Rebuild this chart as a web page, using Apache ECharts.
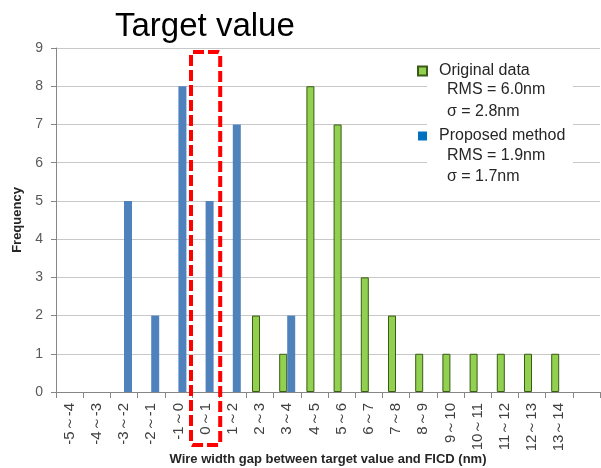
<!DOCTYPE html>
<html>
<head>
<meta charset="utf-8">
<script src="https://cdn.jsdelivr.net/npm/echarts@6/dist/echarts.min.js"></script>
<style>
  html, body { margin: 0; padding: 0; background: #ffffff; }
  #chart { width: 601px; height: 468px; }
</style>
</head>
<body>
<div id="chart"></div>
<script>
// Histogram bins of the wire width gap (nm)
const categories = ['-5～-4', '-4～-3', '-3～-2', '-2～-1', '-1～0', '0～1', '1～2', '2～3', '3～4', '4～5',
  '5～6', '6～7', '7～8', '8～9', '9～10', '10～11', '11～12', '12～13', '13～14', ''];
// Frequency counts per bin
const originalData = [0, 0, 0, 0, 0, 0, 0, 2, 1, 8, 7, 3, 2, 1, 1, 1, 1, 1, 1, 0];
const proposedData = [0, 0, 5, 2, 8, 5, 7, 0, 2, 0, 0, 0, 0, 0, 0, 0, 0, 0, 0, 0];
const yTicks = { min: 0, max: 9, interval: 1 };
const seriesNames = ['Original data', 'Proposed method'];
const statsOriginal = ['RMS = 6.0nm', 'σ = 2.8nm'];
const statsProposed = ['RMS = 1.9nm', 'σ = 1.7nm'];
const xAxisTitle = 'Wire width gap between target value and FICD (nm)';
const targetBin = '0～1';

const chart = echarts.init(document.getElementById('chart'));
const font = "'Liberation Sans', Arial, sans-serif";

// empty bins draw no bar at all
const hideZero = arr => arr.map(v => (v === 0 ? '-' : v));

const option = {
  animation: false,
  backgroundColor: '#ffffff',
  textStyle: { fontFamily: font },
  title: {
    text: 'Target value',
    left: 115, top: 10, padding: 0,
    textStyle: { fontSize: 33, fontWeight: 'normal', color: '#000000', fontFamily: font }
  },
  grid: { left: 56, right: 1, top: 48, bottom: 76, containLabel: false, outerBoundsMode: 'none' },
  legend: {
    orient: 'vertical',
    left: 417, top: 63, padding: 0,
    itemWidth: 9, itemHeight: 9, itemGap: 49,
    z: 5,
    data: [
      { name: seriesNames[0], icon: 'rect' },
      { name: seriesNames[1], icon: 'rect', itemStyle: { color: '#0070c0' } }
    ],
    textStyle: { fontSize: 16, color: '#262626', padding: [0, 0, 0, 7], fontFamily: font }
  },
  xAxis: {
    type: 'category',
    data: categories,
    axisLine: { lineStyle: { color: '#868686', width: 1 } },
    axisTick: { show: true, interval: 0, length: 6, lineStyle: { color: '#868686' } },
    axisLabel: { interval: 0, rotate: 90, margin: 11, fontSize: 15, color: '#404040', fontFamily: font },
    splitLine: { show: false }
  },
  yAxis: {
    type: 'value',
    min: yTicks.min, max: yTicks.max, interval: yTicks.interval,
    name: 'Frequency',
    nameLocation: 'middle',
    nameGap: 28,
    nameRotate: 90,
    nameTextStyle: { fontSize: 13, fontWeight: 'bold', color: '#262626', fontFamily: font },
    axisLine: { show: true, lineStyle: { color: '#868686', width: 1 } },
    axisTick: { show: true, length: 5, lineStyle: { color: '#868686' } },
    axisLabel: { fontSize: 14, color: '#595959', margin: 13, fontFamily: font },
    splitLine: { lineStyle: { color: '#c8c8c8', width: 1 } }
  },
  series: [
    {
      name: seriesNames[0],
      type: 'bar',
      data: hideZero(originalData),
      barWidth: 8,
      barGap: '0%',
      itemStyle: { color: '#92d050', borderColor: '#3b5a17', borderWidth: 1 },
      z: 3
    },
    {
      name: seriesNames[1],
      type: 'bar',
      data: hideZero(proposedData),
      barWidth: 8,
      barGap: '0%',
      itemStyle: { color: '#4f81bd' },
      z: 3
    }
  ]
};
chart.setOption(option);

// Annotation: white legend panel, stats text, x-axis title and the dashed box around the target bin
const binCenter = chart.convertToPixel({ xAxisIndex: 0 }, targetBin);
const nextCenter = chart.convertToPixel({ xAxisIndex: 0 }, categories[6]);
const binWidth = nextCenter - binCenter;
const topY = chart.convertToPixel({ yAxisIndex: 0 }, yTicks.max);
const baseY = chart.convertToPixel({ yAxisIndex: 0 }, yTicks.min);

const statText = (text, y) => ({
  type: 'text', z: 5, x: 447, y: y,
  style: { text: text, fontSize: 16, fill: '#262626', fontFamily: font, textVerticalAlign: 'middle' }
});
chart.setOption({
  graphic: [
    { type: 'rect', z: 1, shape: { x: 427, y: 58, width: 146, height: 128 }, style: { fill: '#ffffff' } },
    statText(statsOriginal[0], 90),
    statText(statsOriginal[1], 112),
    statText(statsProposed[0], 156),
    statText(statsProposed[1], 177),
    {
      type: 'text', z: 5, x: 328, y: baseY + 67,
      style: {
        text: xAxisTitle, fontSize: 13, fontWeight: 'bold', fill: '#262626', fontFamily: font,
        textAlign: 'center', textVerticalAlign: 'middle'
      }
    },
    {
      type: 'rect', z: 10,
      shape: { x: binCenter - binWidth / 2 - 1, y: topY + 4, width: binWidth + 2, height: 393, r: 2 },
      style: { fill: 'none', stroke: '#ff0000', lineWidth: 4, lineDash: [11, 4] }
    }
  ]
});
</script>
</body>
</html>
